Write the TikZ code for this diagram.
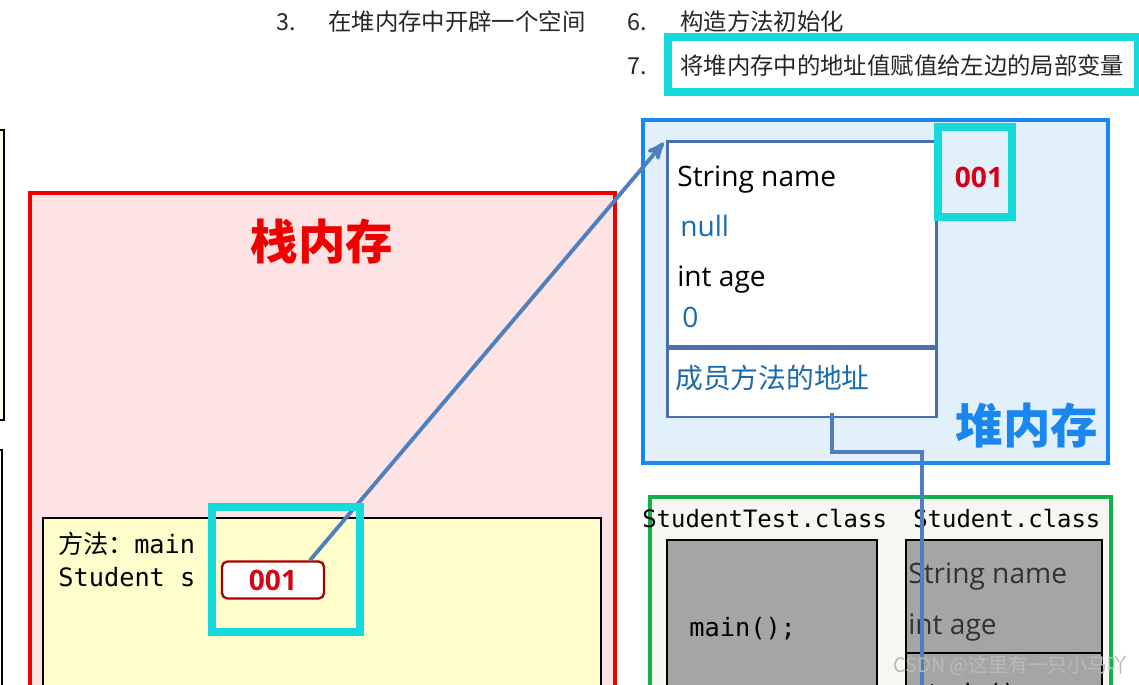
\documentclass[tikz,border=0pt]{standalone}
\usepackage{fontspec}
\setmainfont{Open Sans}
\setmonofont{DejaVu Sans Mono}
\newfontfamily\cjk{Noto Sans CJK SC}
\usetikzlibrary{arrows,calc}

\definecolor{stackred}{HTML}{EE0000}
\definecolor{stackpink}{HTML}{FDE3E3}
\definecolor{frameyellow}{HTML}{FFFDCC}
\definecolor{paleyellow}{HTML}{FFFDE8}
\definecolor{addrred}{HTML}{D90012}
\definecolor{addrdark}{HTML}{A80000}
\definecolor{heapblue}{HTML}{1A86F0}
\definecolor{heapfill}{HTML}{E2F0FC}
\definecolor{objline}{HTML}{4A6FAD}
\definecolor{valblue}{HTML}{1A6AB0}
\definecolor{linkblue}{HTML}{4F7FBF}
\definecolor{classgreen}{HTML}{12B04A}
\definecolor{classfill}{HTML}{F7F7F2}
\definecolor{codegray}{HTML}{A5A5A5}
\definecolor{hicyan}{HTML}{16DADA}

\tikzset{
  steptext/.style={anchor=base west,inner sep=0pt,font=\cjk\fontsize{13.3}{16}\selectfont,text=black!85},
  hilite/.style={draw=hicyan,line width=4pt},
  link/.style={draw=linkblue,line width=2.2pt},
  monotext/.style={anchor=base west,inner sep=0pt,font=\ttfamily\fontsize{14.4}{17}\selectfont},
  fieldtext/.style={anchor=base west,inner sep=0pt,font=\fontsize{16}{19}\selectfont},
  valtext/.style={fieldtext,text=valblue},
  addrbox/.style={draw=addrdark,fill=white,line width=1.3pt,rounded corners=3pt,
    minimum width=2.04cm,minimum height=0.74cm,inner sep=0pt,
    font=\bfseries\fontsize{16}{19}\selectfont,text=addrred},
  objbox/.style={draw=objline,fill=white,line width=1.5pt,minimum width=5.38cm,inner sep=0pt},
  memtitle/.style={font=\cjk\bfseries\fontsize{27}{30}\selectfont}
}

\begin{document}
\begin{tikzpicture}[x=0.02cm,y=-0.02cm]
\useasboundingbox (0,0) rectangle (1139,685);
\clip (0,0) rectangle (1139,685);
%steps
\path (276,31) node[steptext] {3.}
	(328,31) node[steptext] (s3) {在堆内存中开辟一个空间}
	(627,31) node[steptext] {6.}
	(680,31) node[steptext] (s6) {构造方法初始化}
	(627,75) node[steptext] {7.}
	(680,75) node[steptext] (s7) {将堆内存中的地址值赋值给左边的局部变量};
\draw[hilite] (668,37) rectangle (1137,92);
%left edge
\filldraw[draw=black,fill=paleyellow,line width=1.2pt] (-20,130) rectangle (4,420);
\filldraw[draw=black,fill=white,line width=1.2pt] (-20,450) rectangle (2,720);
%stack
\begin{scope}
\filldraw[draw=stackred,fill=stackpink,line width=2.8pt] (30,193) rectangle (615,720);
	\node[memtitle,text=stackred] (stacktitle) at (322,242) {栈内存};
\filldraw[draw=black,fill=frameyellow,line width=1.2pt] (43,518) rectangle (601,720);
	\node[monotext] (frame) at (58,553) {{\cjk 方法：}main};
	\node[monotext] (svar) at (58,586) {Student s};
	\node[addrbox] (addr) at (273,580) {001};
\end{scope}
%heap
\begin{scope}
\filldraw[draw=heapblue,fill=heapfill,line width=2.8pt] (643,120) rectangle (1108,463);
	\node[objbox,minimum height=4.1cm,anchor=north west] (obj) at (666,140) {};
	\node[objbox,minimum height=1.36cm,anchor=north] (meth) at (obj.south) {};
	\node[fieldtext] at (677,187) {String name};
	\node[valtext] at (680,237) {null};
	\node[fieldtext] at (677,287) {int age};
	\node[valtext] at (682,328) {0};
	\node[valtext,font=\cjk\fontsize{15.8}{19}\selectfont] at (675,389) {成员方法的地址};
	\node[font=\bfseries\fontsize{16}{19}\selectfont,text=addrred] (objaddr) at (979,177) {001};
	\node[memtitle,text=heapblue] (heaptitle) at (1027,425) {堆内存};
\end{scope}
%method area
\begin{scope}
\filldraw[draw=classgreen,fill=classfill,line width=2.8pt] (650,497) rectangle (1111,720);
	\node[monotext,font=\ttfamily\fontsize{13.6}{16}\selectfont] at (642,527) {StudentTest.class};
	\node[monotext,font=\ttfamily\fontsize{13.6}{16}\selectfont] at (913,527) {Student.class};
\filldraw[draw=black,fill=codegray,line width=1.2pt] (667,540) rectangle (877,720)
	(906,540) rectangle (1102,653)
	(906,653) rectangle (1102,720);
	\node[monotext] (mainm) at (689,636) {main();};
	\node[fieldtext,text=black!80] at (908,583) {String name};
	\node[fieldtext,text=black!80] at (908,634) {int age};
	\node[monotext] at (910,702) {study();};
\end{scope}
%links
\draw[link,->,>=stealth',shorten >=2pt] (addr.28) -- (obj.north west);
\coordinate (cls) at (922,700);
\draw[link] ($(meth.south)+(30,-5)$) -- ++(0,39) -| (cls);
%highlights
\draw[hilite] (212,507) rectangle (360,632);
\draw[hilite] (938,127) rectangle (1012,217);
\node[anchor=base west,inner sep=0pt,font=\cjk\fontsize{11.3}{14}\selectfont,text=gray!55] at (893,672) {CSDN @这里有一只小马吖};
\end{tikzpicture}
\end{document}
